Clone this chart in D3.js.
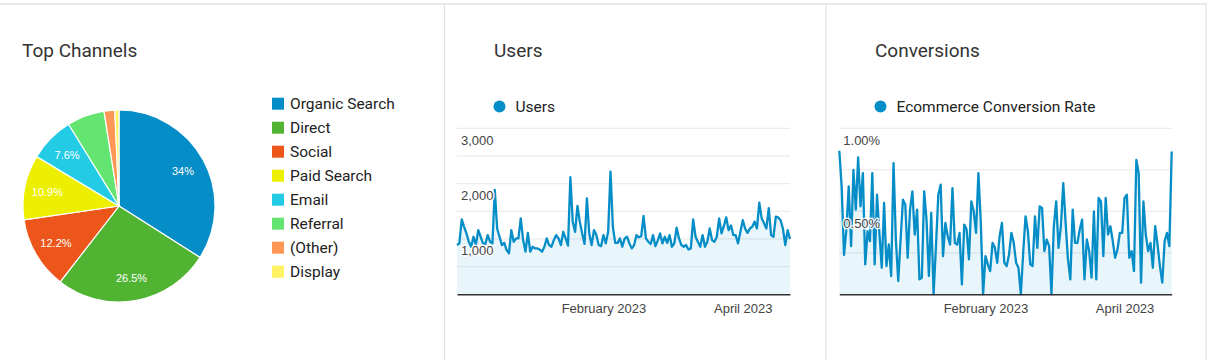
<!DOCTYPE html>
<html><head><meta charset="utf-8">
<script src="https://cdn.jsdelivr.net/npm/d3@7"></script>
<style>
html,body{margin:0;padding:0;background:#fff;}
svg{display:block;}
</style></head><body>
<svg id="c" width="1208" height="360"></svg>
<script>
// ---------- DATA ----------
const channels = ["Organic Search","Direct","Social","Paid Search","Email","Referral","(Other)","Display"];
const channelShares = [34, 26.5, 12.2, 10.9, 7.6, 6.3, 1.8, 0.7];
const channelColors = ["#058dc7","#50b432","#ed561b","#edef00","#24cbe5","#64e572","#ff9655","#fff263"];

const startDate = "2022-12-01";
const users = [890, 920, 1355, 1220, 1100, 950, 860, 1040, 890,
1160, 1040, 920, 910, 1070, 950, 920, 1885, 1190, 1040,
890, 930, 800, 740, 1160, 950, 1010, 1010, 1370, 980,
770, 1110, 770, 860, 830, 830, 810, 770, 860, 1010,
890, 860, 980, 1070, 1010, 890, 1130, 1010, 880, 2115,
1313, 1130, 1596, 1313, 1100, 910, 1735, 1100, 890,
1160, 1070, 890, 870, 1070, 920, 1130, 2217, 1220, 930,
930, 1010, 860, 1010, 1040, 920, 830, 890, 1070, 1030,
1050, 1415, 1010, 950, 910, 1070, 870, 970, 1100, 920,
1040, 930, 1070, 860, 920, 1205, 1010, 890, 860, 890,
810, 830, 1355, 1040, 950, 860, 1070, 860, 950, 1190,
980, 950, 1040, 1370, 1100, 1235, 1390, 1160, 1245, 1070,
1070, 920, 1130, 1340, 1190, 1110, 1190, 1220, 1313, 1190,
1655, 1373, 1283, 1190, 1555, 1070, 1040, 1403, 1390, 1340,
1190, 890, 1160, 1000];

const conversionRate = [0.865, 0.65, 0.237, 0.39, 0.65, 0.29, 0.75, 0.51, 0.825, 0.53,
0.73, 0.18, 0.38, 0.32, 0.73, 0.18, 0.60, 0.37, 0.16, 0.55,
0.17, 0.30, 0.11, 0.79, 0.33, 0.08, 0.33, 0.57, 0.54, 0.22,
0.51, 0.62, 0.36, 0.51, 0.09, 0.10, 0.62, 0.45, 0.11, 0.49,
0.00, 0.29, 0.60, 0.66, 0.23, 0.43, 0.35, 0.30, 0.64, 0.31,
0.30, 0.37, 0.06, 0.42, 0.39, 0.21, 0.56, 0.50, 0.37, 0.73,
0.44, 0.00, 0.23, 0.18, 0.14, 0.31, 0.28, 0.19, 0.35, 0.43,
0.19, 0.17, 0.24, 0.37, 0.31, 0.19, 0.16, 0.00, 0.25, 0.47,
0.38, 0.18, 0.17, 0.47, 0.28, 0.53, 0.52, 0.26, 0.33, 0.29,
0.00, 0.41, 0.56, 0.28, 0.41, 0.67, 0.43, 0.21, 0.09, 0.51,
0.31, 0.31, 0.39, 0.45, 0.09, 0.33, 0.26, 0.10, 0.50, 0.09,
0.58, 0.56, 0.23, 0.58, 0.36, 0.41, 0.32, 0.22, 0.27, 0.37,
0.37, 0.58, 0.60, 0.22, 0.26, 0.14, 0.81, 0.73, 0.07, 0.56,
0.36, 0.26, 0.31, 0.16, 0.41, 0.30, 0.17, 0.07, 0.32, 0.37,
0.29, 0.86];

const userGridValues = [500, 1000, 1500, 2000, 2500, 3000];
const userTickValues = [1000, 2000, 3000];
const convGridValues = [0.25, 0.5, 0.75, 1.0];
const convTickValues = [0.5, 1.0];
const dateTickValues = ["2023-02-01", "2023-04-01"];
const dateTickLabels = ["February 2023", "April 2023"];

// ---------- DRAW ----------
const svg = d3.select("#c");
const parse = d3.utcParse("%Y-%m-%d");
const t0 = parse(startDate);

// panel borders
const border = "#e2e2e2";
svg.append("line").attr("x1",0).attr("x2",1207).attr("y1",4).attr("y2",4).attr("stroke",border).attr("stroke-width",1.6);
[444.5, 826, 1206].forEach(x=>{
  svg.append("line").attr("x1",x).attr("x2",x).attr("y1",4).attr("y2",360).attr("stroke",border).attr("stroke-width",1.2);
});

// titles
const titleFont = "Roboto, 'Noto Sans', Arial, sans-serif";
[["Top Channels",22],["Users",494],["Conversions",875]].forEach(([t,x])=>{
  svg.append("text").attr("x",x).attr("y",57).text(t)
    .attr("font-family",titleFont).attr("font-size",19).attr("fill","#333");
});

// ---- pie ----
const pieG = svg.append("g").attr("transform","translate(119,206)");
const R = 96;
const pie = d3.pie().sort(null).value(d=>d);
const arcs = pie(channelShares);
const arc = d3.arc().innerRadius(0).outerRadius(R);
const labelArc = d3.arc().innerRadius(73).outerRadius(73);
pieG.selectAll("path").data(arcs).join("path")
  .attr("d",arc).attr("fill",(d,i)=>channelColors[i])
  .attr("stroke","#fff").attr("stroke-width",1.2);
pieG.selectAll("text").data(arcs.filter(d=>d.data>=7)).join("text")
  .attr("transform",d=>`translate(${labelArc.centroid(d)})`)
  .attr("text-anchor","middle").attr("dy","0.35em")
  .attr("font-family","Arial, 'Liberation Sans', sans-serif").attr("font-size",11)
  .attr("fill","#fff").text(d=>d.data+"%");

// legend
const lg = svg.append("g");
channels.forEach((c,i)=>{
  const cy = 103.7 + 24*i;
  lg.append("rect").attr("x",272).attr("y",cy-6).attr("width",12).attr("height",12).attr("fill",channelColors[i]);
  lg.append("text").attr("x",290).attr("y",cy+5.5).text(c)
    .attr("font-family",titleFont).attr("font-size",15.5).attr("fill","#222");
});

// ---- line charts ----
const dates = users.map((_,i)=>d3.utcDay.offset(t0,i));
const lineColor = "#058dc7";
const axisFont = "Arial, 'Liberation Sans', sans-serif";

function lineChart(opts){
  const {x0,x1,values,yMax,grid,ticks,fmt,legendX,legendText} = opts;
  const yBottom = 294.3, yTop = 128.3;
  const x = d3.scaleUtc().domain([dates[0], dates[dates.length-1]]).range([x0,x1]);
  const y = d3.scaleLinear().domain([0,yMax]).range([yBottom,yTop]);
  const g = svg.append("g");
  // legend
  g.append("circle").attr("cx",legendX).attr("cy",106.5).attr("r",6).attr("fill",lineColor);
  g.append("text").attr("x",legendX+16).attr("y",112).text(legendText)
    .attr("font-family",titleFont).attr("font-size",15.5).attr("fill","#222");
  // gridlines
  g.selectAll("line.grid").data(grid).join("line").attr("class","grid")
    .attr("x1",x0).attr("x2",x1).attr("y1",d=>y(d)).attr("y2",d=>y(d))
    .attr("stroke","#ececec").attr("stroke-width",1.2);
  // area
  const vals = values.map((v,i)=>({d:dates[i],v}));
  g.append("path").datum(vals)
    .attr("d",d3.area().x(d=>x(d.d)).y0(yBottom).y1(d=>y(d.v)))
    .attr("fill","rgba(5,141,199,0.09)");
  g.append("path").datum(vals)
    .attr("d",d3.line().x(d=>x(d.d)).y(d=>y(d.v)))
    .attr("fill","none").attr("stroke",lineColor).attr("stroke-width",2.3).attr("stroke-linejoin","round");
  // baseline + x axis
  const xAxis = d3.axisBottom(x).tickValues(dateTickValues.map(parse))
    .tickFormat((d,i)=>dateTickLabels[i]).tickSize(0).tickPadding(9.5);
  const ax = g.append("g").attr("transform",`translate(0,${yBottom})`).call(xAxis);
  ax.select(".domain").attr("stroke","#333").attr("stroke-width",1.6);
  ax.selectAll("text").attr("font-family",axisFont).attr("font-size",13).attr("fill","#444");
  // y labels
  const yAxis = d3.axisRight(y).tickValues(ticks).tickFormat(fmt).tickSize(0).tickPadding(0);
  const ay = g.append("g").attr("transform",`translate(${x0+4},0)`).call(yAxis);
  ay.select(".domain").remove();
  ay.selectAll("text").attr("dy",16).attr("font-family",axisFont).attr("font-size",13)
    .attr("fill","#444").attr("stroke","#fff").attr("stroke-width",3).attr("stroke-opacity",0.85)
    .attr("paint-order","stroke").attr("stroke-linejoin","round");
}

lineChart({x0:457,x1:790,values:users,yMax:3000,grid:userGridValues,ticks:userTickValues,
  fmt:d3.format(","),legendX:499.5,legendText:"Users"});
lineChart({x0:839.3,x1:1171.7,values:conversionRate,yMax:1.0,grid:convGridValues,ticks:convTickValues,
  fmt:d=>d3.format(".2f")(d)+"%",legendX:880.5,legendText:"Ecommerce Conversion Rate"});
</script>
</body></html>
